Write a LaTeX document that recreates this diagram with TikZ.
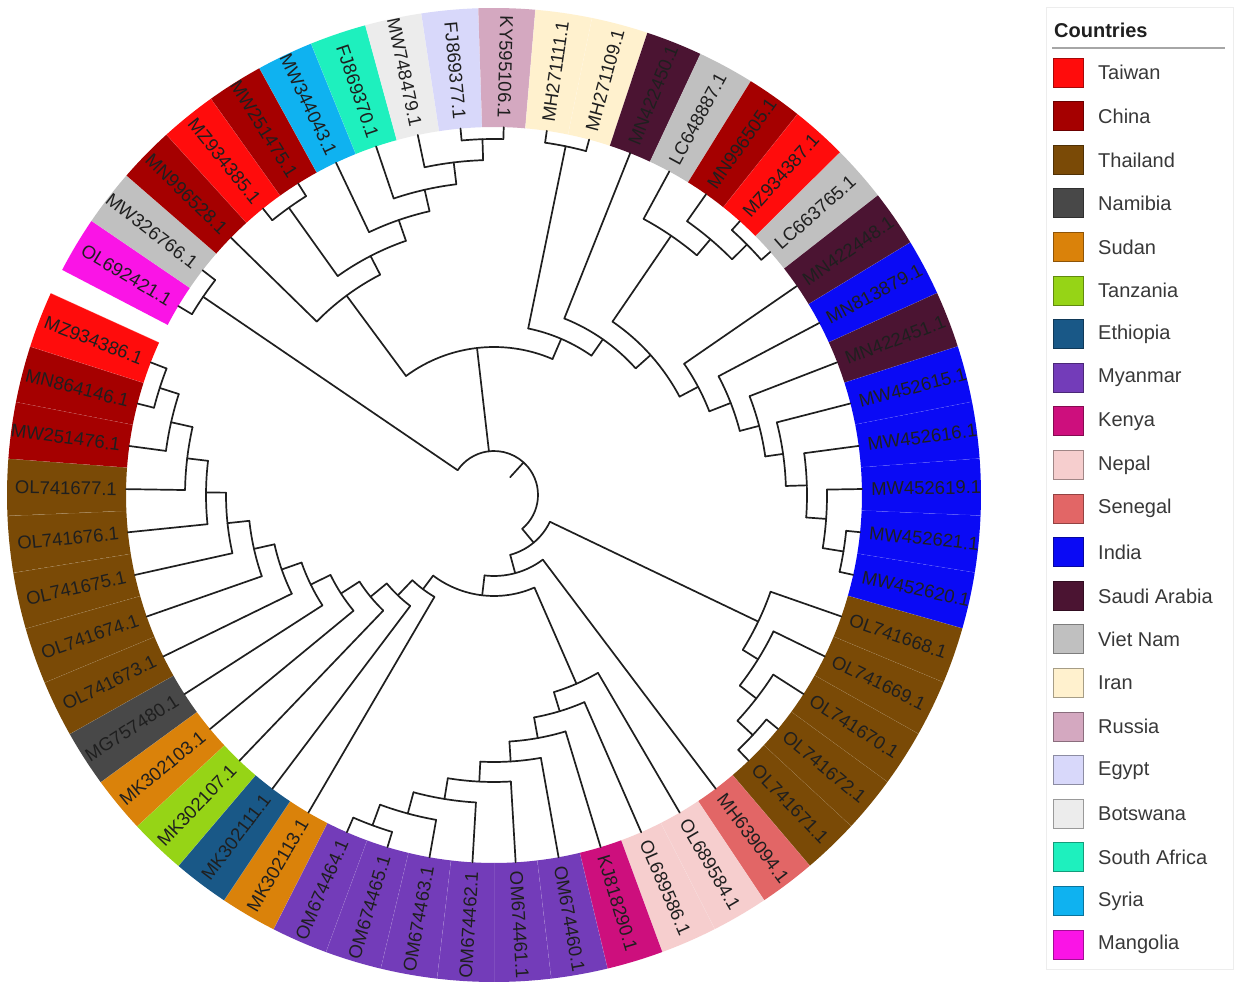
\documentclass[tikz,border=0pt]{standalone}
\usepackage{fontspec}
\setmainfont{Liberation Sans}
\definecolor{cTai}{RGB}{255,12,12}
\definecolor{cChi}{RGB}{165,0,0}
\definecolor{cTha}{RGB}{122,74,6}
\definecolor{cNam}{RGB}{72,72,72}
\definecolor{cSud}{RGB}{218,130,10}
\definecolor{cTan}{RGB}{150,212,22}
\definecolor{cEth}{RGB}{25,88,135}
\definecolor{cMya}{RGB}{115,60,185}
\definecolor{cKen}{RGB}{205,15,125}
\definecolor{cNep}{RGB}{246,206,206}
\definecolor{cSen}{RGB}{226,102,102}
\definecolor{cInd}{RGB}{10,10,245}
\definecolor{cSau}{RGB}{75,20,50}
\definecolor{cVie}{RGB}{192,192,192}
\definecolor{cIra}{RGB}{255,241,206}
\definecolor{cRus}{RGB}{212,168,192}
\definecolor{cEgy}{RGB}{216,216,250}
\definecolor{cBot}{RGB}{236,236,236}
\definecolor{cSAf}{RGB}{30,240,190}
\definecolor{cSyr}{RGB}{15,178,240}
\definecolor{cMan}{RGB}{250,20,230}
\newcommand\TArc[3]{\draw[treeline] (#2:#1) arc[start angle=#2, end angle=#3, radius=#1];}
% \TNode{name}{angle}{radius}{parent radius}{arc from}{arc to}
\newcommand\TNode[6]{\coordinate (#1) at (#2:#3);
  \draw[treeline] (#2:#4) -- (#1);
  \TArc{#3}{#5}{#6}}
% \TLeaf{index}{angle}{parent radius}
\newcommand\TLeaf[3]{\draw[treeline] (#2:#3) -- (L#1);}
\begin{document}
\begin{tikzpicture}[x=1pt,y=1pt,
  treeline/.style={line width=1.7pt, black!88, line cap=round},
  lab/.style={font=\fontsize{18.5}{20}\selectfont, text=black!88, inner sep=0pt},
  legtext/.style={font=\fontsize{20}{22}\selectfont, text=black!78, inner sep=0pt, anchor=west}]
\useasboundingbox (0,0) rectangle (1248,990);
\fill[white] (0,0) rectangle (1248,990);
\begin{scope}[shift={(494,495)}]
% ring of coloured labels
\foreach \i/\col/\lbl in {0/cMan/OL692421.1, 1/cVie/MW326766.1, 2/cChi/MN996528.1, 3/cTai/MZ934385.1, 4/cChi/MW251475.1, 5/cSyr/MW344043.1, 6/cSAf/FJ869370.1, 7/cBot/MW748479.1, 8/cEgy/FJ869377.1, 9/cRus/KY595106.1, 10/cIra/MH271111.1, 11/cIra/MH271109.1, 12/cSau/MN422450.1, 13/cVie/LC648887.1, 14/cChi/MN996505.1, 15/cTai/MZ934387.1, 16/cVie/LC663765.1, 17/cSau/MN422448.1, 18/cInd/MN813879.1, 19/cSau/MN422451.1, 20/cInd/MW452615.1, 21/cInd/MW452616.1, 22/cInd/MW452619.1, 23/cInd/MW452621.1, 24/cInd/MW452620.1, 25/cTha/OL741668.1, 26/cTha/OL741669.1, 27/cTha/OL741670.1, 28/cTha/OL741672.1, 29/cTha/OL741671.1, 30/cSen/MH639094.1, 31/cNep/OL689584.1, 32/cNep/OL689586.1, 33/cKen/KJ818290.1, 34/cMya/OM674460.1, 35/cMya/OM674461.1, 36/cMya/OM674462.1, 37/cMya/OM674463.1, 38/cMya/OM674465.1, 39/cMya/OM674464.1, 40/cSud/MK302113.1, 41/cEth/MK302111.1, 42/cTan/MK302107.1, 43/cSud/MK302103.1, 44/cNam/MG757480.1, 45/cTha/OL741673.1, 46/cTha/OL741674.1, 47/cTha/OL741675.1, 48/cTha/OL741676.1, 49/cTha/OL741677.1, 50/cChi/MW251476.1, 51/cChi/MN864146.1, 52/cTai/MZ934386.1}{
  \pgfmathsetmacro\th{149.1-6.735*\i}
  \pgfmathsetmacro\ta{\th-3.3675}
  \pgfmathsetmacro\tb{\th+3.3675}
  \fill[\col] (\ta:368) arc[start angle=\ta, end angle=\tb, radius=368] -- (\tb:487) arc[start angle=\tb, end angle=\ta, radius=487] -- cycle;
  \draw[white, opacity=0.3, line width=0.6pt] (\ta:368) -- (\ta:487);
  \coordinate (L\i) at (\th:368);
  \pgfmathtruncatemacro\isleft{(\th>88 || \th<-90) ? 1 : 0}
  \ifnum\isleft=1
    \node[lab, anchor=east, rotate=\th+180] (lab\i) at (\th:377) {\lbl};
  \else
    \node[lab, anchor=west, rotate=\th] (lab\i) at (\th:377) {\lbl};
  \fi
}
% root
\coordinate (root) at (47.75:44);
\draw[treeline] (47.75:24) -- (root);
\TArc{44}{-50.22}{145.73}
% Mangolia / Viet Nam pair
\TNode{nA}{145.73}{352}{44}{142.37}{149.10}
\TLeaf{0}{149.10}{352} \TLeaf{1}{142.37}{352}
% upper clade
\TNode{nB}{96.59}{148}{44}{66.71}{126.48}
\TNode{nD}{126.48}{248}{148}{117.32}{135.63}
\TLeaf{2}{135.63}{248}
\TNode{nE}{117.32}{269}{248}{109.11}{125.53}
\TNode{nBB}{125.53}{353}{269}{122.16}{128.90}
\TLeaf{3}{128.90}{353} \TLeaf{4}{122.16}{353}
\TNode{nF}{109.11}{291}{269}{102.80}{115.43}
\TLeaf{5}{115.43}{291}
\TNode{nG}{102.80}{313}{291}{96.91}{108.69}
\TLeaf{6}{108.69}{313}
\TNode{nH}{96.91}{335}{313}{91.86}{101.96}
\TLeaf{7}{101.96}{335}
\TNode{nI}{91.86}{356}{335}{88.49}{95.22}
\TLeaf{8}{95.22}{356} \TLeaf{9}{88.49}{356}
\TNode{nJ}{66.71}{170}{148}{55.03}{78.39}
\TNode{nK}{78.39}{356}{170}{75.02}{81.75}
\TLeaf{10}{81.75}{356} \TLeaf{11}{75.02}{356}
\TNode{nL}{55.03}{190}{170}{41.79}{68.28}
\TLeaf{12}{68.28}{190}
\TNode{nM}{41.79}{210}{190}{27.92}{55.65}
\TNode{nN}{55.65}{314}{210}{49.76}{61.55}
\TLeaf{13}{61.55}{314}
\TNode{nO}{49.76}{335}{314}{44.71}{54.81}
\TLeaf{14}{54.81}{335}
\TNode{nP}{44.71}{356}{335}{41.34}{48.08}
\TLeaf{15}{48.08}{356} \TLeaf{16}{41.34}{356}
\TNode{nQ}{27.92}{231}{210}{21.24}{34.61}
\TLeaf{17}{34.61}{231}
\TNode{nS}{21.24}{254}{231}{14.61}{27.87}
\TLeaf{18}{27.87}{254}
\TNode{nT}{14.61}{274}{254}{8.09}{21.14}
\TLeaf{19}{21.14}{274}
\TNode{nU}{8.09}{292}{274}{1.77}{14.40}
\TLeaf{20}{14.40}{292}
\TNode{nV}{1.77}{313}{292}{-4.12}{7.67}
\TLeaf{21}{7.67}{313}
\TNode{nW}{-4.12}{333}{313}{-9.18}{0.93}
\TLeaf{22}{0.93}{333}
\TNode{nX}{-9.18}{354}{333}{-12.54}{-5.81}
\TLeaf{23}{-5.81}{354} \TLeaf{24}{-12.54}{354}
% lower clade
\TNode{nR2}{-50.22}{62}{44}{-74.84}{-25.6}
\TNode{nY}{-25.6}{293}{62}{-31.9}{-19.28}
\TLeaf{25}{-19.28}{293}
\TNode{nAB}{-31.9}{311}{293}{-37.8}{-26.01}
\TLeaf{26}{-26.01}{311}
\TNode{nAC}{-37.8}{332}{311}{-42.85}{-32.75}
\TLeaf{27}{-32.75}{332}
\TNode{nAD}{-42.85}{353}{332}{-46.22}{-39.48}
\TLeaf{28}{-39.48}{353} \TLeaf{29}{-46.22}{353}
\TNode{nR3}{-74.84}{81}{62}{-96.72}{-52.95}
\TLeaf{30}{-52.95}{81}
\TNode{nR4}{-96.72}{101}{81}{-127.04}{-66.4}
\TNode{nNP}{-66.4}{206}{101}{-73.1}{-59.69}
\TLeaf{31}{-59.69}{206}
\TNode{nNQ}{-73.1}{226}{206}{-79.79}{-66.42}
\TLeaf{32}{-66.42}{226}
\TNode{nNR}{-79.79}{247}{226}{-86.42}{-73.16}
\TLeaf{33}{-73.16}{247}
\TNode{nNS}{-86.42}{267}{247}{-92.94}{-79.89}
\TLeaf{34}{-79.89}{267}
\TNode{nNT}{-92.94}{287}{267}{-99.26}{-86.63}
\TLeaf{35}{-86.63}{287}
\TNode{nNU}{-99.26}{308}{287}{-105.15}{-93.36}
\TLeaf{36}{-93.36}{308}
\TNode{nNV}{-105.15}{330}{308}{-110.2}{-100.10}
\TLeaf{37}{-100.10}{330}
\TNode{nNW}{-110.2}{352}{330}{-113.57}{-106.83}
\TLeaf{38}{-106.83}{352} \TLeaf{39}{-113.57}{352}
\TNode{nL1}{-127.04}{118}{101}{-133.77}{-120.30}
\TLeaf{40}{-120.30}{118}
\TNode{nL2}{-133.77}{139}{118}{-140.5}{-127.04}
\TLeaf{41}{-127.04}{139}
\TNode{nL3}{-140.5}{160}{139}{-147.23}{-133.77}
\TLeaf{42}{-133.77}{160}
\TNode{nL4}{-147.23}{182}{160}{-153.95}{-140.51}
\TLeaf{43}{-140.51}{182}
\TNode{nL5}{-153.95}{204}{182}{-160.66}{-147.24}
\TLeaf{44}{-147.24}{204}
\TNode{nP7}{-160.66}{225}{204}{-167.34}{-153.98}
\TLeaf{45}{-153.98}{225}
\TNode{nP6}{-167.34}{246}{225}{-173.97}{-160.71}
\TLeaf{46}{-160.71}{246}
\TNode{nP5}{-173.97}{268}{246}{-180.50}{-167.45}
\TLeaf{47}{-167.45}{268}
\TNode{nP4}{-180.50}{288}{268}{-186.81}{-174.18}
\TLeaf{48}{-174.18}{288}
\TNode{nP3}{-186.81}{309}{288}{-192.70}{-180.92}
\TLeaf{49}{-180.92}{309}
\TNode{nP2}{-192.70}{331}{309}{-197.76}{-187.65}
\TLeaf{50}{-187.65}{331}
\TNode{nP1}{-197.76}{351}{331}{-201.12}{-194.39}
\TLeaf{51}{-194.39}{351} \TLeaf{52}{-201.12}{351}
\end{scope}
% legend
\draw[black!7, line width=1pt] (1046,982) rectangle (1233,20);
\node[inner sep=0pt, anchor=west, font=\bfseries\fontsize{20}{22}\selectfont, text=black!88] (legtitle) at (1054,960) {Countries};
\draw[black!35, line width=2pt] (1052,942) -- (1225,942);
\foreach \k/\col/\name in {0/cTai/Taiwan, 1/cChi/China, 2/cTha/Thailand, 3/cNam/Namibia, 4/cSud/Sudan, 5/cTan/Tanzania, 6/cEth/Ethiopia, 7/cMya/Myanmar, 8/cKen/Kenya, 9/cNep/Nepal, 10/cSen/Senegal, 11/cInd/India, 12/cSau/Saudi Arabia, 13/cVie/Viet Nam, 14/cIra/Iran, 15/cRus/Russia, 16/cEgy/Egypt, 17/cBot/Botswana, 18/cSAf/South Africa, 19/cSyr/Syria, 20/cMan/Mangolia}{
  \pgfmathsetmacro\yy{990-72.7-43.6*\k}
  \filldraw[fill=\col, draw=\col!65!black, line width=1pt] (1053.5,\yy-14.5) rectangle (1083.5,\yy+14.5);
  \node[legtext] (leg\k) at (1098,\yy) {\name};
}
\end{tikzpicture}
\end{document}
